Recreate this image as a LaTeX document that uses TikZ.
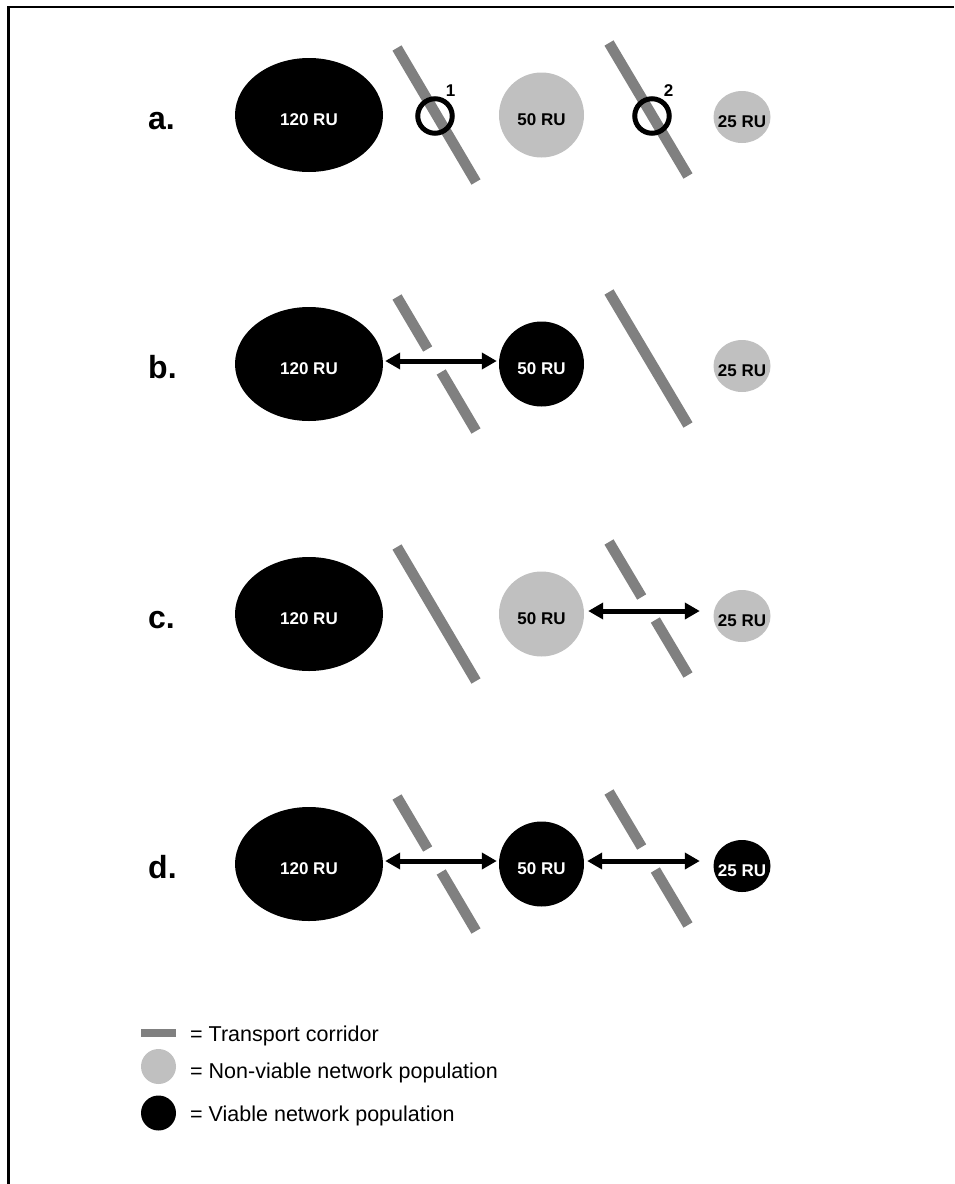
\documentclass[tikz,border=0pt]{standalone}
\usepackage{fontspec}
\setmainfont{Liberation Sans}
\usetikzlibrary{shapes.geometric,arrows.meta}
\definecolor{corridorgray}{RGB}{128,128,128}
\definecolor{weakgray}{RGB}{192,192,192}

\tikzset{
  pop/.style={ellipse, inner sep=0pt, draw=none},
  big/.style={pop, minimum width=148pt, minimum height=114pt},
  mid/.style={pop, minimum width=85pt, minimum height=85pt},
  small/.style={pop, minimum width=57pt, minimum height=52pt},
  rutext/.style={font=\bfseries\fontsize{17}{19}\selectfont, yshift=-4.5pt, inner sep=0pt},
  viable/.style={fill=black, label={[rutext, text=white]center:#1}},
  weak/.style={fill=weakgray, label={[rutext, text=black]center:#1}},
  corridor/.style={draw=corridorgray, line width=10.5pt},
  link/.style={line width=5pt, {Triangle[length=15pt,width=16pt]}-{Triangle[length=15pt,width=16pt]}},
  ring/.style={circle, draw=black, line width=5pt, minimum size=34.5pt, inner sep=0pt},
  ringnum/.style={font=\bfseries\fontsize{17}{19}\selectfont, inner sep=0pt},
  rowlabel/.style={font=\bfseries\fontsize{32}{36}\selectfont, anchor=base west, inner sep=0pt},
  keytext/.style={font=\fontsize{21.5}{24}\selectfont, anchor=base west, inner sep=0pt},
  keymark/.style={inner sep=0pt, draw=none},
}

\begin{document}
\begin{tikzpicture}[x=1pt, y=-1pt]
\useasboundingbox (0,0) rectangle (954,1184);
% frame
\draw[line width=2.4pt] (954,7) -- (8.6,7) -- (8.6,1184);

% a. two crossing points marked on uncrossed corridors
\begin{scope}[shift={(0,115)}]
  \node[rowlabel] (lab-a) at (148,14.5) {a.};
  \node[big, viable=120 RU] (big-a) at (309,0) {};
  \node[mid, weak=50 RU] (mid-a) at (541.5,0) {};
  \node[small, weak=25 RU] (small-a) at (742,2) {};
  \draw[corridor] (397,-67) -- (476,67);
  \draw[corridor] (609,-72) -- (688,61);
  \node[ring] (ring-1) at (435,1) {};
  \node[ring] (ring-2) at (652,1) {};
  \node[ringnum] (num-1) at (450.5,-24) {1};
  \node[ringnum] (num-2) at (668.5,-24) {2};
\end{scope}

% b. crossing 1 opened
\begin{scope}[shift={(0,364)}]
  \node[rowlabel] (lab-b) at (148,14.5) {b.};
  \node[big, viable=120 RU] (big-b) at (309,0) {};
  \node[mid, viable=50 RU] (mid-b) at (541.5,0) {};
  \node[small, weak=25 RU] (small-b) at (742,2) {};
  \draw[corridor] (397,-67) -- (427.7,-15);
  \draw[corridor] (441.2,8) -- (476,67);
  \draw[corridor] (609,-72) -- (688,61);
  \draw[link, shorten <=2pt, shorten >=2pt] ([yshift=3pt]big-b.east) -- ([yshift=3pt]mid-b.west);
\end{scope}

% c. crossing 2 opened
\begin{scope}[shift={(0,614)}]
  \node[rowlabel] (lab-c) at (148,14.5) {c.};
  \node[big, viable=120 RU] (big-c) at (309,0) {};
  \node[mid, weak=50 RU] (mid-c) at (541.5,0) {};
  \node[small, weak=25 RU] (small-c) at (742,2) {};
  \draw[corridor] (397,-67) -- (476,67);
  \draw[corridor] (609,-72) -- (641.7,-17);
  \draw[corridor] (655.3,6) -- (688,61);
  \draw[link, shorten <=4pt, shorten >=13.5pt] ([yshift=3pt]mid-c.east) -- ([yshift=5pt]small-c.west);
\end{scope}

% d. both crossings opened
\begin{scope}[shift={(0,864)}]
  \node[rowlabel] (lab-d) at (148,14.5) {d.};
  \node[big, viable=120 RU] (big-d) at (309,0) {};
  \node[mid, viable=50 RU] (mid-d) at (541.5,0) {};
  \node[small, viable=25 RU] (small-d) at (742,2) {};
  \draw[corridor] (397,-67) -- (427.7,-15);
  \draw[corridor] (441.2,8) -- (476,67);
  \draw[corridor] (609,-72) -- (641.7,-17);
  \draw[corridor] (655.3,6) -- (688,61);
  \draw[link, shorten <=2pt, shorten >=2pt] ([yshift=3pt]big-d.east) -- ([yshift=3pt]mid-d.west);
  \draw[link, shorten <=3pt, shorten >=13.5pt] ([yshift=3pt]mid-d.east) -- ([yshift=5pt]small-d.west);
\end{scope}

% key
\node[keymark, rectangle, fill=corridorgray, minimum width=35pt, minimum height=7.5pt] (key-corridor) at (158.5,1033) {};
\node[keymark, circle, fill=weakgray, minimum size=35pt] (key-weak) at (158.5,1066.5) {};
\node[keymark, circle, fill=black, minimum size=35pt] (key-viable) at (158.5,1113) {};
\node[keytext] (txt-corridor) at (190,1041.7) {= Transport corridor};
\node[keytext] (txt-weak) at (190,1078.5) {= Non-viable network population};
\node[keytext] (txt-viable) at (190,1121.7) {= Viable network population};
\end{tikzpicture}
\end{document}
